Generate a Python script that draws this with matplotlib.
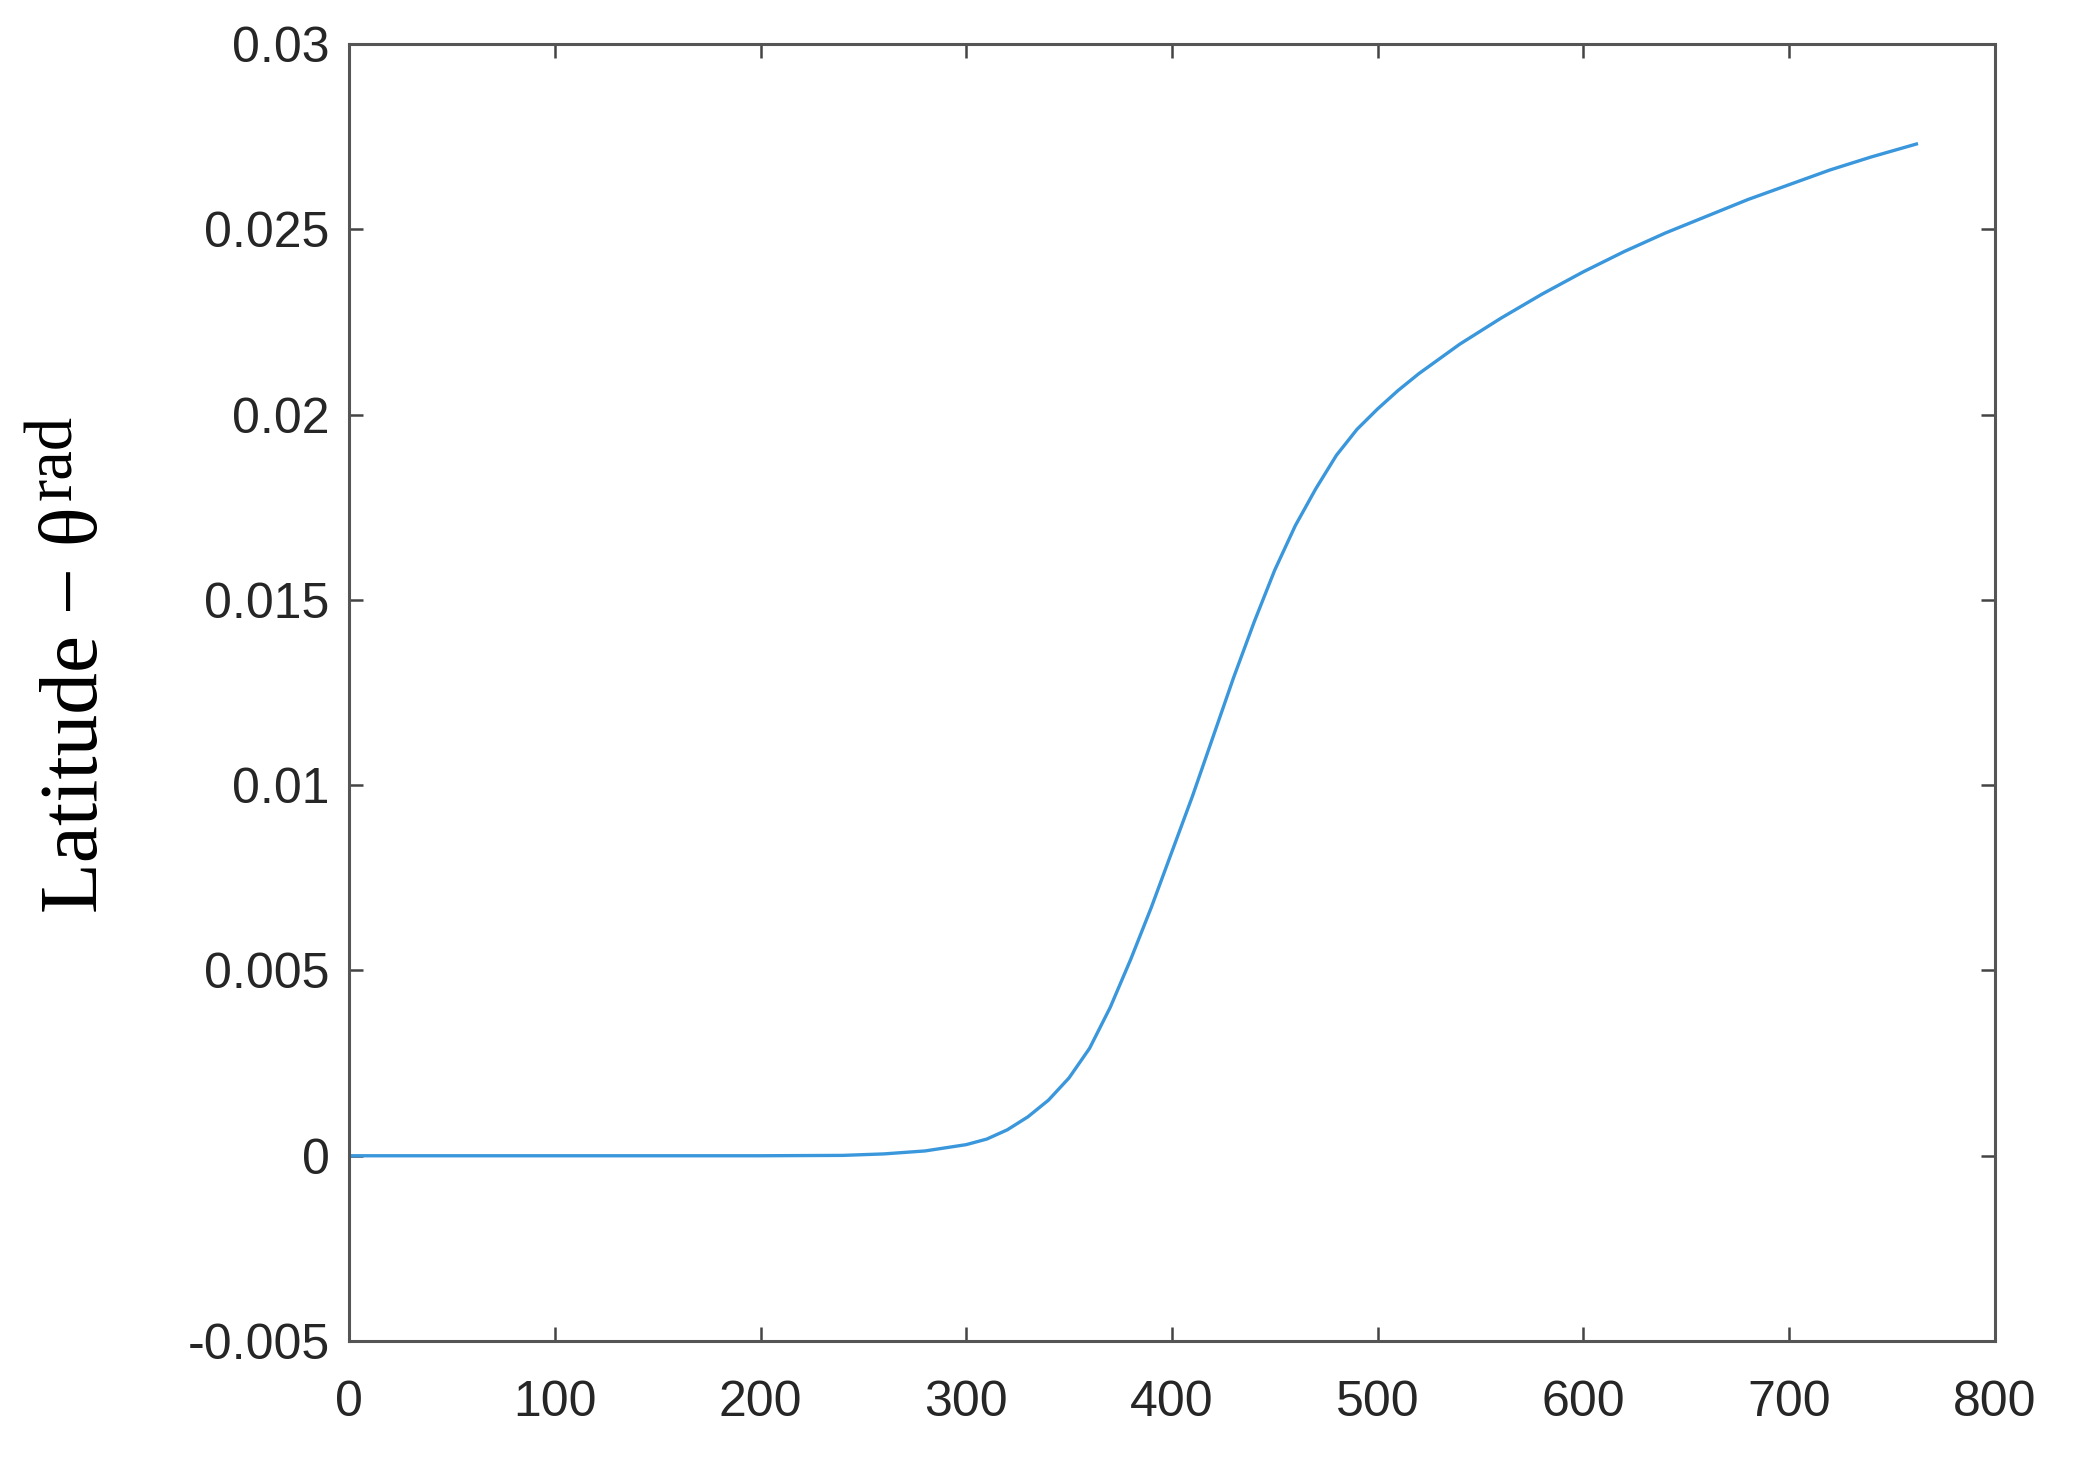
import matplotlib
matplotlib.use("Agg")
import matplotlib.pyplot as plt

# curve (x in samples, y in rad)
x_vals = [0, 50, 100, 150, 200, 240, 260, 280, 300, 310, 320, 330, 340, 350,
          360, 370, 380, 390, 400, 410, 420, 430, 440, 450, 460, 470, 480,
          490, 500, 510, 520, 540, 560, 580, 600, 620, 640, 660, 680, 700,
          720, 740, 762]
y_vals = [0, 0, 0, 0, 0, 0.00001, 0.00005, 0.00013, 0.0003, 0.00045, 0.0007,
          0.00105, 0.0015, 0.0021, 0.0029, 0.0040, 0.0053, 0.0067, 0.0082,
          0.0097, 0.0113, 0.0129, 0.0144, 0.0158, 0.0170, 0.0180, 0.0189,
          0.0196, 0.02015, 0.02065, 0.0211, 0.0219, 0.0226, 0.02325, 0.02385,
          0.0244, 0.0249, 0.02535, 0.0258, 0.0262, 0.0266, 0.02695, 0.0273]

x_ticks = [0, 100, 200, 300, 400, 500, 600, 700, 800]
y_ticks = [-0.005, 0, 0.005, 0.01, 0.015, 0.02, 0.025, 0.03]
y_tick_labels = ['-0.005', '0', '0.005', '0.01', '0.015', '0.02', '0.025', '0.03']
y_label_main = 'Latitude \u2212 \u03b8'
y_label_sup = 'rad'

plt.rcParams['font.family'] = ['Liberation Sans', 'DejaVu Sans']

W, H = 2082, 1465
fig = plt.figure(figsize=(W / 100, H / 100), dpi=100)
ax = fig.add_axes([0.1677, 0.0846, 0.958 - 0.1677, 0.970 - 0.0846])

ax.plot(x_vals, y_vals, color='#3a97dc', linewidth=2.4)

ax.set_xlim(0, 800)
ax.set_ylim(-0.005, 0.03)
ax.set_xticks(x_ticks)
ax.set_xticklabels([str(t) for t in x_ticks])
ax.set_yticks(y_ticks)
ax.set_yticklabels(y_tick_labels)

for s in ax.spines.values():
    s.set_color('#555555')
    s.set_linewidth(2.2)
ax.tick_params(direction='in', length=10, width=1.8, color='#444444',
               labelsize=36, labelcolor='#262626', top=True, right=True)
ax.tick_params(axis='x', pad=28)
ax.tick_params(axis='y', pad=14)

# y label: main part plus a raised "rad", placed by hand
lab = fig.text(97 / W, 1 - 710 / H, y_label_main, rotation=90,
               rotation_mode='anchor', ha='center', va='baseline',
               fontsize=60, family='Liberation Serif')
fig.canvas.draw()
bb = lab.get_window_extent()
fig.text(71 / W, (bb.y1 + 7) / H, y_label_sup, rotation=90,
         rotation_mode='anchor', ha='left', va='baseline',
         fontsize=48, family='Liberation Serif')

fig.savefig('out.png', dpi=100, facecolor='white')
